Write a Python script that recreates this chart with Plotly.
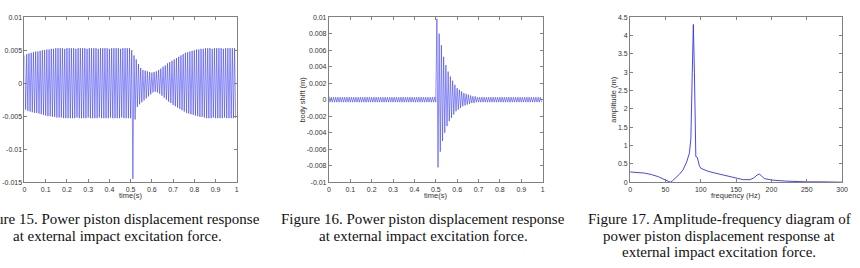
import plotly.graph_objects as go

# ---------------- data ----------------
# Fig 15: power piston displacement (m); upper and lower peak of each oscillation cycle,
# cycles evenly spaced over 0..1 s
p1_upper = [
    0.0042, 0.0044, 0.0045, 0.0046, 0.0047, 0.0048, 0.0048, 0.0049, 0.0050, 0.0050,
    0.0051, 0.0051, 0.0052, 0.0052, 0.0053, 0.0053, 0.0053, 0.0053, 0.0052, 0.0053,
    0.0053, 0.0053, 0.0053, 0.0052, 0.0053, 0.0053, 0.0053, 0.0053, 0.0052, 0.0053,
    0.0053, 0.0053, 0.0053, 0.0052, 0.0053, 0.0053, 0.0053, 0.0053, 0.0052, 0.0053,
    0.0053, 0.0053, 0.0053, 0.0052, 0.0053, 0.0053, 0.0053, 0.0053, 0.0050, 0.0042,
    0.0036, 0.0029, 0.0023, 0.0020, 0.0019, 0.0018, 0.0017, 0.0016, 0.0017, 0.0018,
    0.0020, 0.0022, 0.0025, 0.0027, 0.0030, 0.0032, 0.0034, 0.0036, 0.0038, 0.0040,
    0.0042, 0.0044, 0.0046, 0.0047, 0.0048, 0.0049, 0.0050, 0.0051, 0.0051, 0.0052,
    0.0052, 0.0053, 0.0053, 0.0053, 0.0052, 0.0053, 0.0053, 0.0053, 0.0053, 0.0052,
    0.0053, 0.0053, 0.0053, 0.0053, 0.0053,
]
p1_lower = [
    -0.0040, -0.0042, -0.0043, -0.0044, -0.0045, -0.0045, -0.0046, -0.0047, -0.0048, -0.0049,
    -0.0050, -0.0050, -0.0051, -0.0051, -0.0052, -0.0052, -0.0052, -0.0053, -0.0053, -0.0053,
    -0.0053, -0.0053, -0.0053, -0.0052, -0.0053, -0.0053, -0.0053, -0.0053, -0.0052, -0.0053,
    -0.0053, -0.0053, -0.0053, -0.0052, -0.0053, -0.0053, -0.0053, -0.0053, -0.0052, -0.0053,
    -0.0053, -0.0053, -0.0053, -0.0052, -0.0053, -0.0053, -0.0053, -0.0053, -0.0145, -0.0055,
    -0.0036, -0.0032, -0.0029, -0.0026, -0.0023, -0.0020, -0.0017, -0.0014, -0.0013, -0.0014,
    -0.0016, -0.0019, -0.0022, -0.0025, -0.0028, -0.0030, -0.0033, -0.0035, -0.0037, -0.0039,
    -0.0041, -0.0043, -0.0045, -0.0046, -0.0047, -0.0048, -0.0049, -0.0050, -0.0051, -0.0051,
    -0.0052, -0.0053, -0.0053, -0.0053, -0.0052, -0.0053, -0.0053, -0.0053, -0.0053, -0.0052,
    -0.0053, -0.0053, -0.0053, -0.0053, -0.0053,
]
# Fig 16: body shift (m); upper and lower peak of each cycle
p2_upper = [
    0.0004, 0.0003, 0.0003, 0.0003, 0.0003, 0.0003, 0.0003, 0.0003, 0.0003, 0.0003,
    0.0003, 0.0003, 0.0003, 0.0003, 0.0003, 0.0003, 0.0003, 0.0003, 0.0003, 0.0003,
    0.0003, 0.0003, 0.0003, 0.0003, 0.0003, 0.0003, 0.0003, 0.0003, 0.0003, 0.0003,
    0.0003, 0.0003, 0.0003, 0.0003, 0.0003, 0.0003, 0.0003, 0.0003, 0.0003, 0.0003,
    0.0003, 0.0003, 0.0003, 0.0003, 0.0003, 0.0003, 0.0003, 0.0003, 0.0098, 0.0080,
    0.0066, 0.0052, 0.0042, 0.0034, 0.0028, 0.0023, 0.0018, 0.0014, 0.0012, 0.0010,
    0.0008, 0.0007, 0.0006, 0.0005, 0.0004, 0.0004, 0.0003, 0.0003, 0.0003, 0.0003,
    0.0003, 0.0003, 0.0003, 0.0003, 0.0003, 0.0003, 0.0003, 0.0003, 0.0003, 0.0003,
    0.0003, 0.0003, 0.0003, 0.0003, 0.0003, 0.0003, 0.0003, 0.0003, 0.0003, 0.0003,
    0.0003, 0.0003, 0.0003, 0.0003, 0.0003,
]
p2_lower = [
    -0.0003, -0.0003, -0.0003, -0.0003, -0.0003, -0.0003, -0.0003, -0.0003, -0.0003, -0.0003,
    -0.0003, -0.0003, -0.0003, -0.0003, -0.0003, -0.0003, -0.0003, -0.0003, -0.0003, -0.0003,
    -0.0003, -0.0003, -0.0003, -0.0003, -0.0003, -0.0003, -0.0003, -0.0003, -0.0003, -0.0003,
    -0.0003, -0.0003, -0.0003, -0.0003, -0.0003, -0.0003, -0.0003, -0.0003, -0.0003, -0.0003,
    -0.0003, -0.0003, -0.0003, -0.0003, -0.0003, -0.0003, -0.0003, -0.0003, -0.0082, -0.0063,
    -0.0050, -0.0040, -0.0032, -0.0026, -0.0022, -0.0018, -0.0014, -0.0012, -0.0010, -0.0008,
    -0.0007, -0.0006, -0.0005, -0.0004, -0.0004, -0.0003, -0.0003, -0.0003, -0.0003, -0.0003,
    -0.0003, -0.0003, -0.0003, -0.0003, -0.0003, -0.0003, -0.0003, -0.0003, -0.0003, -0.0003,
    -0.0003, -0.0003, -0.0003, -0.0003, -0.0003, -0.0003, -0.0003, -0.0003, -0.0003, -0.0003,
    -0.0003, -0.0003, -0.0003, -0.0003, -0.0003,
]
time_start = 0.0
time_end = 1.0

# Fig 17: amplitude-frequency
freq = [0, 10, 20, 30, 40, 50, 55, 57, 60, 65, 70, 75, 80, 84, 86, 88, 89.5, 91, 92, 93,
        95, 96, 98, 100, 110, 120, 130, 140, 150, 160, 170, 175, 180, 183, 186, 190, 200,
        220, 250, 265, 270, 300]
amp = [0.28, 0.27, 0.25, 0.21, 0.15, 0.06, 0.01, 0.0, 0.04, 0.12, 0.22, 0.34, 0.55, 0.80,
       1.2, 3.0, 4.3, 3.0, 1.5, 0.70, 0.68, 0.60, 0.45, 0.38, 0.30, 0.25, 0.20, 0.15, 0.11,
       0.07, 0.07, 0.12, 0.20, 0.22, 0.17, 0.10, 0.06, 0.03, 0.01, 0.02, 0.01, 0.0]

t_ticks = [0, 0.1, 0.2, 0.3, 0.4, 0.5, 0.6, 0.7, 0.8, 0.9, 1]
t_ticktext = ["0", "0.1", "0.2", "0.3", "0.4", "0.5", "0.6", "0.7", "0.8", "0.9", "1"]
y1_ticks = [0.01, 0.005, 0, -0.005, -0.01, -0.015]
y1_ticktext = ["0.01", "0.005", "0", "-0.005", "-0.01", "-0.015"]
y2_ticks = [0.01, 0.008, 0.006, 0.004, 0.002, 0, -0.002, -0.004, -0.006, -0.008, -0.01]
y2_ticktext = ["0.01", "0.008", "0.006", "0.004", "0.002", "0", "-0.002", "-0.004",
               "-0.006", "-0.008", "-0.01"]
f_ticks = [0, 50, 100, 150, 200, 250, 300]
f_ticktext = ["0", "50", "100", "150", "200", "250", "300"]
a_ticks = [0, 0.5, 1, 1.5, 2, 2.5, 3, 3.5, 4, 4.5]
a_ticktext = ["0", "0.5", "1", "1.5", "2", "2.5", "3", "3.5", "4", "4.5"]

captions = [
    ["Figure 15. Power piston displacement response",
     "at external impact excitation force."],
    ["Figure 16. Power piston displacement response",
     "at external impact excitation force."],
    ["Figure 17. Amplitude-frequency diagram of",
     "power piston displacement response at",
     "external impact excitation force."],
]

# ---------------- figure ----------------
W, H = 860, 268
line_col = "rgb(50,50,235)"


def interleave(up, lo):
    out = []
    for u, l in zip(up, lo):
        out.extend([u, l])
    return out


fig = go.Figure()
for ys_up, ys_lo, xa, ya in [(p1_upper, p1_lower, "x", "y"), (p2_upper, p2_lower, "x2", "y2")]:
    ys = interleave(ys_up, ys_lo)
    fig.add_trace(go.Scatter(y=ys, x0=time_start, dx=(time_end - time_start) / len(ys),
                             mode="lines", line=dict(color=line_col, width=0.55),
                             xaxis=xa, yaxis=ya))
fig.add_trace(go.Scatter(x=freq, y=amp, mode="lines",
                         line=dict(color=line_col, width=0.9), xaxis="x3", yaxis="y3"))


def px_x(v):
    return v / W


def px_y(v):
    return 1 - v / H


tickfont = dict(family="Liberation Sans, Arial", size=7, color="#333")
ax_common = dict(showline=True, linecolor="#808080", linewidth=1, mirror="ticks",
                 ticks="inside", ticklen=3, tickcolor="#808080", showgrid=False,
                 zeroline=False, tickfont=tickfont, fixedrange=True)

y_dom = [px_y(183), px_y(13.5)]
layout = dict(
    width=W, height=H, margin=dict(l=0, r=0, t=0, b=0),
    paper_bgcolor="white", plot_bgcolor="white", showlegend=False,
    xaxis=dict(domain=[px_x(22.7), px_x(237)], anchor="y", range=[0, 1],
               tickvals=t_ticks, ticktext=t_ticktext, **ax_common),
    yaxis=dict(domain=y_dom, anchor="x", range=[-0.015, 0.01],
               tickvals=y1_ticks, ticktext=y1_ticktext, **ax_common),
    xaxis2=dict(domain=[px_x(330), px_x(545.7)], anchor="y2", range=[0, 1],
                tickvals=t_ticks, ticktext=t_ticktext, **ax_common),
    yaxis2=dict(domain=y_dom, anchor="x2", range=[-0.01, 0.01],
                tickvals=y2_ticks, ticktext=y2_ticktext, **ax_common),
    xaxis3=dict(domain=[px_x(634), px_x(848)], anchor="y3", range=[0, 300],
                tickvals=f_ticks, ticktext=f_ticktext, **ax_common),
    yaxis3=dict(domain=y_dom, anchor="x3", range=[0, 4.5],
                tickvals=a_ticks, ticktext=a_ticktext, **ax_common),
)
fig.update_layout(**layout)

lab_font = dict(family="Liberation Sans, Arial", size=7.5, color="#333")
annots = [
    dict(text="time(s)", x=px_x(130), y=px_y(197), xanchor="center", yanchor="middle",
         font=lab_font),
    dict(text="time(s)", x=px_x(438), y=px_y(197), xanchor="center", yanchor="middle",
         font=lab_font),
    dict(text="frequency (Hz)", x=px_x(741), y=px_y(197), xanchor="center", yanchor="middle",
         font=lab_font),
    dict(text="body shift (m)", x=px_x(303), y=px_y(98), textangle=-90, xanchor="center",
         yanchor="middle", font=lab_font),
    dict(text="amplitude (m)", x=px_x(617), y=px_y(98), textangle=-90, xanchor="center",
         yanchor="middle", font=lab_font),
]
cap_font = dict(family="Liberation Serif, Times New Roman", size=15, color="#111")
cap_x = [117, 425, 724]
cap_line_y = [221, 238, 255]
for cx, lines in zip(cap_x, captions):
    for ly, txt in zip(cap_line_y, lines):
        annots.append(dict(text=txt, x=px_x(cx), y=px_y(ly), xanchor="center",
                           yanchor="middle", font=cap_font))
for a in annots:
    a.update(xref="paper", yref="paper", showarrow=False)
fig.update_layout(annotations=annots)

fig.write_html("out.html", config={"displayModeBar": False})
